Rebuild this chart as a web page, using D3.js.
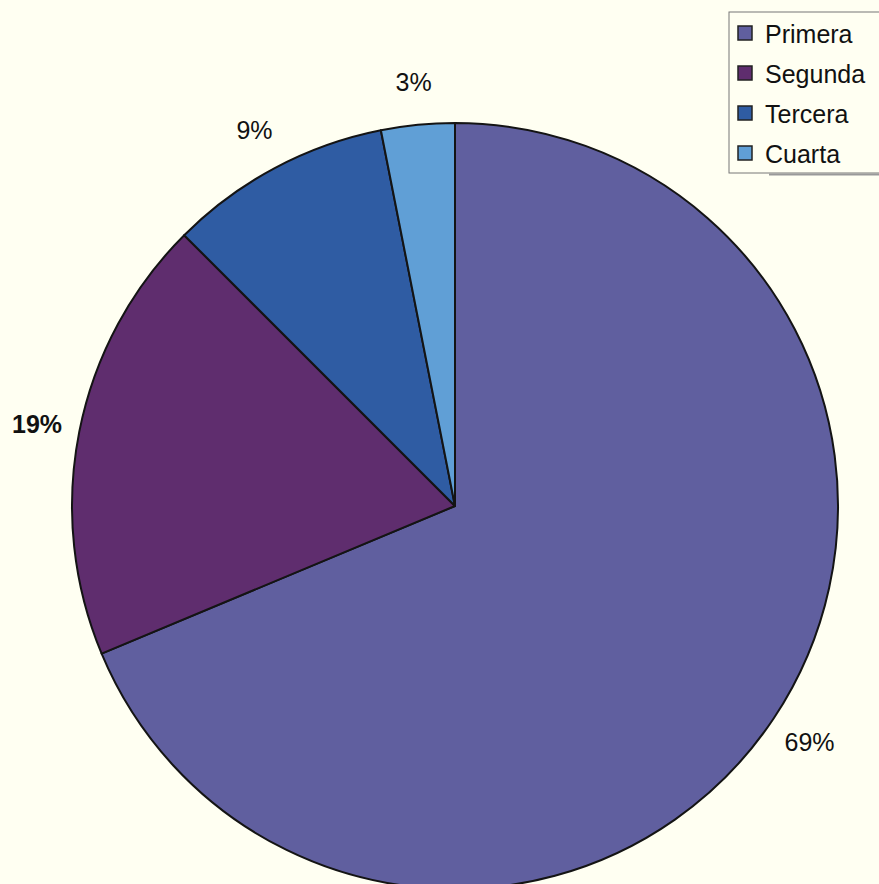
<!DOCTYPE html>
<html>
<head>
<meta charset="utf-8">
<script src="https://cdn.jsdelivr.net/npm/d3@7"></script>
<style>
  html, body { margin: 0; padding: 0; background: #fffff2; }
  svg { display: block; }
</style>
</head>
<body>
<svg id="chart" width="879" height="884"></svg>
<script>
const categories = ["Primera", "Segunda", "Tercera", "Cuarta"];
const values = [68.7, 18.8, 9.4, 3.1];
const colors = ["#605f9f", "#5f2d6e", "#2f5ca3", "#609fd6"];
const boldLabel = [false, true, false, false];

const svg = d3.select("#chart");
svg.append("rect").attr("width", 879).attr("height", 884).attr("fill", "#fffff2");

const cx = 455, cy = 506, r = 383, labelR = 426;

const data = categories.map((c, i) => ({ name: c, value: values[i], color: colors[i], bold: boldLabel[i] }));
const pie = d3.pie().value(d => d.value).sort(null);
const arcs = pie(data);
const arc = d3.arc().innerRadius(0).outerRadius(r);
const labelArc = d3.arc().innerRadius(labelR).outerRadius(labelR);
const total = d3.sum(values);

const g = svg.append("g").attr("transform", `translate(${cx},${cy})`);
g.selectAll("path.slice").data(arcs).join("path")
  .attr("class", "slice")
  .attr("d", arc)
  .attr("fill", d => d.data.color)
  .attr("stroke", "#141414")
  .attr("stroke-width", 2)
  .attr("stroke-linejoin", "round");

g.selectAll("text.lbl").data(arcs).join("text")
  .attr("class", "lbl")
  .attr("transform", d => `translate(${labelArc.centroid(d)})`)
  .attr("text-anchor", "middle")
  .attr("dominant-baseline", "central")
  .attr("font-family", "Liberation Sans, Arial, sans-serif")
  .attr("font-size", 25)
  .attr("font-weight", d => d.data.bold ? "bold" : "normal")
  .attr("fill", "#111")
  .text(d => Math.round(d.data.value / total * 100) + "%");

// Legend
const lg = svg.append("g").attr("transform", "translate(729,12)");
lg.append("rect").attr("x", 0).attr("y", 0).attr("width", 160).attr("height", 161)
  .attr("fill", "#fffff2").attr("stroke", "#777").attr("stroke-width", 1);
lg.append("line").attr("x1", 40).attr("x2", 160).attr("y1", 162.5).attr("y2", 162.5)
  .attr("stroke", "#999").attr("stroke-width", 2);
const items = lg.selectAll("g.item").data(data).join("g")
  .attr("class", "item")
  .attr("transform", (d, i) => `translate(9,${21 + i * 40})`);
items.append("rect").attr("x", 0).attr("y", -7).attr("width", 14).attr("height", 14)
  .attr("fill", d => d.color).attr("stroke", "#222").attr("stroke-width", 1.5);
items.append("text").attr("x", 27).attr("y", 1)
  .attr("dominant-baseline", "central")
  .attr("font-family", "Liberation Sans, Arial, sans-serif")
  .attr("font-size", 25)
  .attr("fill", "#111")
  .text(d => d.name);
</script>
</body>
</html>
